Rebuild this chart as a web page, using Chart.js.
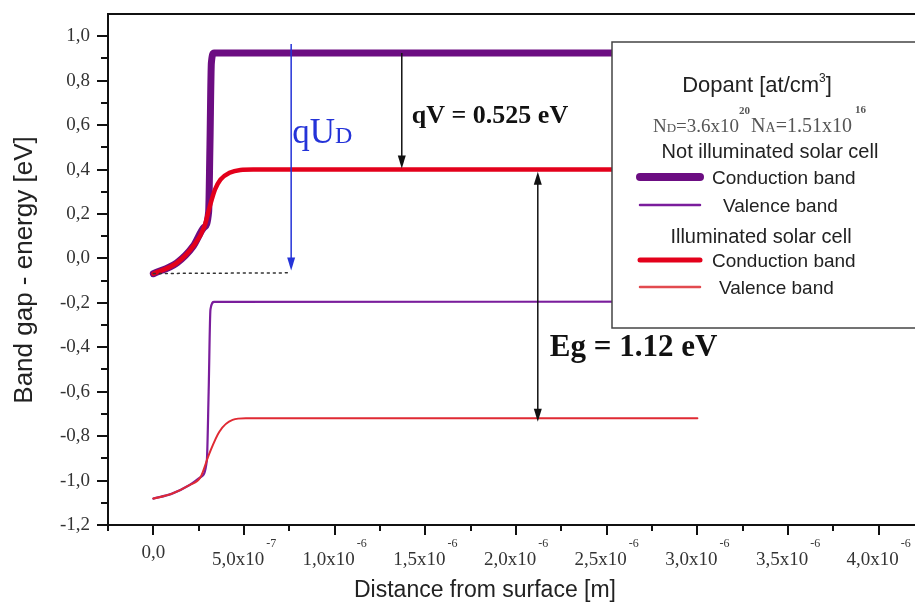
<!DOCTYPE html>
<html>
<head>
<meta charset="utf-8">
<script src="https://cdn.jsdelivr.net/npm/chart.js@4.4.1/dist/chart.umd.min.js"></script>
<style>
  html, body { margin: 0; padding: 0; background: #fff; }
  canvas { display: block; }
</style>
</head>
<body>
<canvas id="bands" width="915" height="605"></canvas>
<script>
// distance from the surface [m] and band energies [eV]
const darkCondX = [0, 1.3e-7, 2.2e-7, 2.8e-7, 3.05e-7, 3.12e-7, 3.2e-7, 3.35e-7, 3.0e-6];
const darkCondE = [-0.069, -0.02, 0.055, 0.14, 0.21, 0.5, 0.88, 0.925, 0.925];

const darkValX = [0, 1.0e-7, 2.0e-7, 2.6e-7, 2.95e-7, 3.05e-7, 3.15e-7, 3.35e-7, 3.0e-6];
const darkValE = [-1.081, -1.06, -1.02, -0.985, -0.91, -0.6, -0.23, -0.196, -0.195];

const litCondX = [0, 1.3e-7, 2.2e-7, 2.8e-7, 3.1e-7, 3.4e-7, 3.7e-7, 4.2e-7, 4.8e-7, 5.5e-7, 3.0e-6];
const litCondE = [-0.069, -0.02, 0.055, 0.14, 0.23, 0.31, 0.355, 0.385, 0.398, 0.40, 0.40];

const litValX = [0, 1.0e-7, 2.0e-7, 2.6e-7, 3.08e-7, 3.64e-7, 4.37e-7, 5.1e-7, 3.0e-6];
const litValE = [-1.081, -1.06, -1.02, -0.985, -0.88, -0.78, -0.727, -0.72, -0.72];

// dotted reference level at the surface
const guideX = [0, 7.6e-7];
const guideE = [-0.068, -0.065];

// arrows: x position and energy range
const qUdArrow = { x: 7.6e-7, top: 0.965, bottom: -0.055 };
const qVArrow = { x: 1.37e-6, top: 0.925, bottom: 0.405 };
const egArrow = { x: 2.12e-6, top: 0.39, bottom: -0.735 };

// axis ticks: every 2.5e-7 m (labels on every second), every 0.1 eV (labels every 0.2)
const xStep = 2.5e-7;
const xTickSteps = [-1, 16];
const yStep = 0.1;
const yTickSteps = [-12, 10];

const purple = '#6c0d82';
const purpleThin = '#7a1d9c';
const red = '#e3001b';
const redThin = '#e02a33';
const blue = '#2433d8';

const pts = (xs, ys) => xs.map((v, i) => ({ x: v, y: ys[i] }));

const stepTicks = (step, [k0, k1]) => {
  const out = [];
  for (let k = k0; k <= k1; k++) out.push({ value: k * step, k });
  return out;
};

function arrowHead(ctx, x, y, dir, color) {
  // dir: 1 points down, -1 points up
  ctx.fillStyle = color;
  ctx.beginPath();
  ctx.moveTo(x, y);
  ctx.lineTo(x - 4, y - dir * 13);
  ctx.lineTo(x + 4, y - dir * 13);
  ctx.closePath();
  ctx.fill();
}

const decor = {
  id: 'bandDecor',
  afterDatasetsDraw(chart) {
    const { ctx, chartArea: a, scales: { x, y } } = chart;
    ctx.save();

    // frame top and tick marks
    ctx.strokeStyle = '#111';
    ctx.lineWidth = 2;
    ctx.beginPath();
    ctx.moveTo(a.left - 1, a.top);
    ctx.lineTo(a.right, a.top);
    x.ticks.forEach(t => {
      const px = Math.round(x.getPixelForValue(t.value));
      ctx.moveTo(px, a.bottom);
      ctx.lineTo(px, a.bottom + (t.k % 2 === 0 ? 10 : 6));
    });
    y.ticks.forEach(t => {
      const py = Math.round(y.getPixelForValue(t.value));
      ctx.moveTo(a.left, py);
      ctx.lineTo(a.left - (t.k % 2 === 0 ? 11 : 7), py);
    });
    ctx.stroke();

    // x tick labels with powers of ten
    ctx.fillStyle = '#333';
    ctx.textBaseline = 'alphabetic';
    x.ticks.forEach(t => {
      if (t.k < 0 || t.k % 2 !== 0) return;
      const px = x.getPixelForValue(t.value);
      ctx.font = '19px "Liberation Serif"';
      if (t.k === 0) {
        ctx.textAlign = 'center';
        ctx.fillText('0,0', px, a.bottom + 33);
        return;
      }
      const [m, e] = t.value.toExponential(1).split('e');
      const main = m.replace('.', ',') + 'x10';
      const wm = ctx.measureText(main).width;
      ctx.font = '12px "Liberation Serif"';
      const ws = ctx.measureText(e).width;
      const left = px - (wm + 2 + ws) / 2;
      ctx.textAlign = 'left';
      ctx.fillText(e, left + wm + 2, a.bottom + 22);
      ctx.font = '19px "Liberation Serif"';
      ctx.fillText(main, left, a.bottom + 40);
    });

    // axis titles
    ctx.fillStyle = '#222';
    ctx.font = '23px "Liberation Sans"';
    ctx.textAlign = 'center';
    ctx.fillText('Distance from surface [m]', 485, 597);
    ctx.save();
    ctx.translate(32, 270);
    ctx.rotate(-Math.PI / 2);
    ctx.font = '26px "Liberation Sans"';
    ctx.fillText('Band gap - energy [eV]', 0, 0);
    ctx.restore();

    // arrows
    ctx.lineWidth = 1.5;
    const bx = x.getPixelForValue(qUdArrow.x);
    const bTop = y.getPixelForValue(qUdArrow.top);
    const bBot = y.getPixelForValue(qUdArrow.bottom);
    ctx.strokeStyle = blue;
    ctx.beginPath();
    ctx.moveTo(bx, bTop);
    ctx.lineTo(bx, bBot - 10);
    ctx.stroke();
    arrowHead(ctx, bx, bBot, 1, blue);

    const vx = x.getPixelForValue(qVArrow.x);
    const vTop = y.getPixelForValue(qVArrow.top);
    const vBot = y.getPixelForValue(qVArrow.bottom);
    ctx.strokeStyle = '#111';
    ctx.beginPath();
    ctx.moveTo(vx, vTop);
    ctx.lineTo(vx, vBot - 10);
    ctx.stroke();
    arrowHead(ctx, vx, vBot, 1, '#111');

    const ex = x.getPixelForValue(egArrow.x);
    const eTop = y.getPixelForValue(egArrow.top);
    const eBot = y.getPixelForValue(egArrow.bottom);
    ctx.beginPath();
    ctx.moveTo(ex, eTop + 10);
    ctx.lineTo(ex, eBot - 10);
    ctx.stroke();
    arrowHead(ctx, ex, eTop, -1, '#111');
    arrowHead(ctx, ex, eBot, 1, '#111');

    // arrow labels
    ctx.textAlign = 'left';
    ctx.fillStyle = blue;
    ctx.font = '35px "Liberation Serif"';
    ctx.fillText('qU', bx + 1, 143);
    const wq = ctx.measureText('qU').width;
    ctx.font = '24px "Liberation Serif"';
    ctx.fillText('D', bx + 1 + wq, 143);

    ctx.fillStyle = '#111';
    ctx.font = 'bold 26px "Liberation Serif"';
    ctx.fillText('qV = 0.525 eV', vx + 10, 123);
    ctx.font = 'bold 31px "Liberation Serif"';
    ctx.fillText('Eg = 1.12 eV', ex + 12, 356);

    // legend box
    const lx = 612, ly = 42;
    ctx.fillStyle = '#fff';
    ctx.fillRect(lx, ly, a.right - lx + 10, 286);
    ctx.strokeStyle = '#444';
    ctx.lineWidth = 1.5;
    ctx.strokeRect(lx, ly, a.right - lx + 10, 286);

    ctx.fillStyle = '#222';
    ctx.font = '22px "Liberation Sans"';
    const d1 = 'Dopant [at/cm';
    const wd = ctx.measureText(d1).width;
    ctx.font = '12px "Liberation Sans"';
    const w3 = ctx.measureText('3').width;
    ctx.font = '22px "Liberation Sans"';
    const wb = ctx.measureText(']').width;
    let cx = 757 - (wd + w3 + wb) / 2;
    ctx.fillText(d1, cx, ly + 50);
    ctx.fillText(']', cx + wd + w3, ly + 50);
    ctx.font = '12px "Liberation Sans"';
    ctx.fillText('3', cx + wd, ly + 40);

    // doping levels
    ctx.fillStyle = '#555';
    cx = 653;
    const nb = ly + 90;
    const seg = (txt, font, dy) => {
      ctx.font = font;
      ctx.fillText(txt, cx, nb + (dy || 0));
      cx += ctx.measureText(txt).width;
    };
    seg('N', '19px "Liberation Serif"');
    seg('D', '13px "Liberation Serif"');
    seg('=3.6x10', '19px "Liberation Serif"');
    seg('20', 'bold 11px "Liberation Serif"', -18);
    cx += 1;
    seg('N', '20px "Liberation Serif"');
    seg('A', '14px "Liberation Serif"');
    seg('=1.51x10', '20px "Liberation Serif"');
    cx += 3;
    seg('16', 'bold 11px "Liberation Serif"', -19);

    ctx.fillStyle = '#222';
    ctx.textAlign = 'center';
    ctx.font = '20px "Liberation Sans"';
    ctx.fillText('Not illuminated solar cell', 770, ly + 116);
    ctx.fillText('Illuminated solar cell', 761, ly + 201);

    const rows = [
      { y: ly + 135, color: purple, width: 8, text: 'Conduction band', tx: 712 },
      { y: ly + 163, color: purpleThin, width: 2.5, text: 'Valence band', tx: 723 },
      { y: ly + 218, color: red, width: 5, text: 'Conduction band', tx: 712 },
      { y: ly + 245, color: '#e24a4f', width: 2.5, text: 'Valence band', tx: 719 }
    ];
    ctx.textAlign = 'left';
    ctx.font = '19px "Liberation Sans"';
    ctx.lineCap = 'round';
    rows.forEach(r => {
      ctx.strokeStyle = r.color;
      ctx.lineWidth = r.width;
      ctx.beginPath();
      ctx.moveTo(lx + 28, r.y);
      ctx.lineTo(lx + 88, r.y);
      ctx.stroke();
      ctx.fillStyle = '#222';
      ctx.fillText(r.text, r.tx, r.y + 7);
    });

    ctx.restore();
  }
};

new Chart(document.getElementById('bands'), {
  type: 'line',
  data: {
    datasets: [
      { data: pts(guideX, guideE), borderColor: '#333', borderWidth: 1.5, borderDash: [2, 4], order: 0 },
      { data: pts(litCondX, litCondE), borderColor: red, borderWidth: 4.5, order: 1 },
      { data: pts(darkCondX, darkCondE), borderColor: purple, borderWidth: 7, order: 2 },
      { data: pts(litValX, litValE), borderColor: redThin, borderWidth: 2, order: 3 },
      { data: pts(darkValX, darkValE), borderColor: purpleThin, borderWidth: 2.2, order: 4 }
    ]
  },
  options: {
    responsive: false,
    animation: false,
    events: [],
    layout: { padding: { top: 14, left: 0, right: 0, bottom: 0 } },
    elements: {
      point: { radius: 0 },
      line: { cubicInterpolationMode: 'monotone', borderCapStyle: 'round', borderJoinStyle: 'round', fill: false }
    },
    plugins: { legend: { display: false }, tooltip: { enabled: false } },
    scales: {
      x: {
        type: 'linear',
        min: -2.5e-7,
        max: 4.2e-6,
        ticks: { display: false, autoSkip: false },
        grid: { display: false, drawTicks: false },
        border: { display: true, color: '#111', width: 2 },
        afterBuildTicks: s => { s.ticks = stepTicks(xStep, xTickSteps); },
        afterFit: s => { s.height = 80; s.paddingLeft = 0; s.paddingRight = 0; }
      },
      y: {
        min: -1.2,
        max: 1.1,
        ticks: {
          autoSkip: false,
          padding: 18,
          color: '#333',
          font: { family: 'Liberation Serif', size: 19 },
          callback: (v, i, ticks) => {
            const k = ticks[i].k;
            if (k % 2 !== 0) return '';
            return (k / 10).toFixed(1).replace('.', ',');
          }
        },
        grid: { display: false, drawTicks: false },
        border: { display: true, color: '#111', width: 2 },
        afterBuildTicks: s => { s.ticks = stepTicks(yStep, yTickSteps); },
        afterFit: s => { s.width = 108; s.paddingTop = 0; s.paddingBottom = 0; }
      }
    }
  },
  plugins: [decor]
});
</script>
</body>
</html>
